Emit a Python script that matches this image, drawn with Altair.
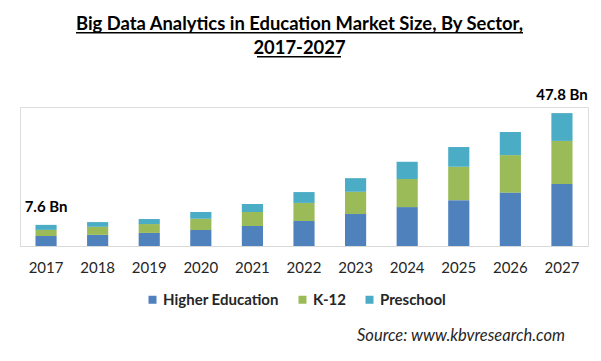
import altair as alt
import pandas as pd

years = ["2017", "2018", "2019", "2020", "2021", "2022", "2023", "2024", "2025", "2026", "2027"]
sectors = ["Higher Education", "K-12", "Preschool"]
higher_ed = [3.6, 4.0, 4.7, 5.8, 7.2, 9.0, 11.5, 14.0, 16.5, 19.2, 22.3]
k12 = [2.2, 2.9, 3.2, 4.0, 5.0, 6.5, 8.0, 10.1, 12.0, 13.5, 15.5]
preschool = [1.8, 1.7, 1.8, 2.4, 2.9, 3.9, 4.9, 6.2, 7.1, 8.3, 10.0]
colors = ["#4F81BD", "#9BBB59", "#4BACC6"]
label_years = ["2017", "2027"]
label_totals = [7.6, 47.8]
label_texts = ["7.6 Bn", "47.8 Bn"]
title_line1 = "Big Data Analytics in Education Market Size, By Sector,"
title_line2 = "2017-2027"
source_text = "Source: www.kbvresearch.com"

FONT = "Lato"

rows = []
for i, y in enumerate(years):
    for j, (s, vals) in enumerate(zip(sectors, [higher_ed, k12, preschool])):
        rows.append({"Year": y, "Sector": s, "Value": vals[i], "order": j})
df = pd.DataFrame(rows)
lab = pd.DataFrame({"Year": label_years, "Total": label_totals, "Label": label_texts})
src = pd.DataFrame({"t": [source_text]})
t1 = pd.DataFrame({"t": [title_line1]})
t2 = pd.DataFrame({"t": [title_line2]})

x_enc = alt.X("Year:N", sort=years, title=None,
              scale=alt.Scale(paddingInner=0.59, paddingOuter=0.3),
              axis=alt.Axis(labelAngle=0, ticks=False, domainColor="#d9d9d9",
                            labelFont=FONT, labelFontSize=15, labelColor="#262626",
                            labelPadding=14))

bars = alt.Chart(df).mark_bar().encode(
    x=x_enc,
    y=alt.Y("Value:Q", stack="zero", axis=None, scale=alt.Scale(domain=[0, 50], nice=False)),
    color=alt.Color("Sector:N", scale=alt.Scale(domain=sectors, range=colors),
                    legend=alt.Legend(title=None, orient="none", direction="horizontal",
                                      legendX=125, legendY=185, symbolType="square",
                                      symbolSize=64, symbolStrokeWidth=0,
                                      labelFont=FONT, labelFontSize=15, labelFontWeight="bold",
                                      labelColor="#262626", columnPadding=16, labelOffset=3,
                                      padding=0)),
    order=alt.Order("order:Q", sort="ascending"),
)

labels = alt.Chart(lab).mark_text(font=FONT, fontSize=15, fontWeight="bold", color="#000000",
                                  dy=-18).encode(
    x=alt.X("Year:N", sort=years),
    y=alt.Y("Total:Q"),
    text="Label:N",
)

source = alt.Chart(src).mark_text(font=FONT, fontSize=16.5, fontStyle="italic", align="right",
                                  baseline="middle", color="#262626").encode(
    x=alt.value(545), y=alt.value(229), text="t:N")

title1 = alt.Chart(t1).mark_text(font=FONT, fontSize=18.4, fontWeight="bold", color="#000000",
                                 align="center", baseline="alphabetic").encode(
    x=alt.value(279.5), y=alt.value(-77), text="t:N")
title2 = alt.Chart(t2).mark_text(font=FONT, fontSize=18.4, fontWeight="bold", color="#000000",
                                 align="center", baseline="alphabetic").encode(
    x=alt.value(279.5), y=alt.value(-53), text="t:N")

# title underlines (decoration)
ul1 = alt.Chart(src).mark_rule(color="#000000", strokeWidth=1.5).encode(
    x=alt.value(56), x2=alt.value(503), y=alt.value(-74.3))
ul2 = alt.Chart(src).mark_rule(color="#000000", strokeWidth=1.5).encode(
    x=alt.value(237), x2=alt.value(321), y=alt.value(-50.3))

chart = alt.layer(bars, labels, source, title1, title2, ul1, ul2).properties(
    width=568, height=139,
    autosize=alt.AutoSizeParams(type="none"),
    padding={"left": 12, "top": 99, "right": 5, "bottom": 100},
).configure_view(stroke=None).configure(background="white")

chart.save("out.html", embed_options={"renderer": "svg", "actions": False})
